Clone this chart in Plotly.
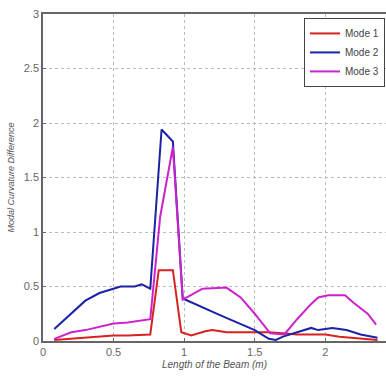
import plotly.graph_objects as go

mode1_x = [0.08, 0.2, 0.3, 0.4, 0.5, 0.6, 0.7, 0.76, 0.82, 0.92, 0.98, 1.05, 1.15, 1.2, 1.3, 1.4, 1.5, 1.6, 1.7, 1.8, 1.9, 2.0, 2.1, 2.2, 2.3, 2.37]
mode1_y = [0.01, 0.02, 0.03, 0.04, 0.05, 0.05, 0.06, 0.06, 0.65, 0.65, 0.08, 0.05, 0.09, 0.10, 0.08, 0.08, 0.08, 0.08, 0.07, 0.06, 0.06, 0.06, 0.04, 0.03, 0.02, 0.01]

mode2_x = [0.08, 0.2, 0.3, 0.4, 0.5, 0.55, 0.65, 0.7, 0.76, 0.84, 0.92, 0.99, 1.25, 1.5, 1.6, 1.65, 1.7, 1.8, 1.9, 1.95, 2.0, 2.05, 2.15, 2.25, 2.37]
mode2_y = [0.11, 0.25, 0.37, 0.44, 0.48, 0.50, 0.50, 0.52, 0.48, 1.94, 1.83, 0.39, 0.24, 0.10, 0.02, 0.01, 0.04, 0.08, 0.12, 0.10, 0.11, 0.12, 0.10, 0.06, 0.03]

mode3_x = [0.08, 0.2, 0.3, 0.4, 0.5, 0.6, 0.7, 0.76, 0.83, 0.92, 0.99, 1.02, 1.13, 1.3, 1.4, 1.5, 1.61, 1.71, 1.8, 1.9, 1.95, 2.02, 2.14, 2.2, 2.3, 2.36]
mode3_y = [0.02, 0.08, 0.10, 0.13, 0.16, 0.17, 0.19, 0.20, 1.14, 1.78, 0.38, 0.40, 0.48, 0.49, 0.40, 0.25, 0.07, 0.06, 0.20, 0.34, 0.40, 0.42, 0.42, 0.35, 0.25, 0.15]

x_ticks = [0, 0.5, 1, 1.5, 2]
x_tick_labels = ["0", "0.5", "1", "1.5", "2"]
y_ticks = [0, 0.5, 1, 1.5, 2, 2.5, 3]
y_tick_labels = ["0", "0.5", "1", "1.5", "2", "2.5", "3"]

fig = go.Figure()
fig.add_trace(go.Scatter(x=mode1_x, y=mode1_y, mode="lines", name="Mode 1",
                         line=dict(color="#d82222", width=2)))
fig.add_trace(go.Scatter(x=mode2_x, y=mode2_y, mode="lines", name="Mode 2",
                         line=dict(color="#1c22a6", width=2)))
fig.add_trace(go.Scatter(x=mode3_x, y=mode3_y, mode="lines", name="Mode 3",
                         line=dict(color="#cc22cc", width=2)))

font_family = "Liberation Sans, Arial, sans-serif"
fig.update_layout(
    width=386, height=378,
    margin=dict(l=43, r=0, t=14, b=37),
    paper_bgcolor="white", plot_bgcolor="white",
    font=dict(family=font_family, size=10, color="#666666"),
    showlegend=True,
    legend=dict(x=0.997, y=0.988, xanchor="right", yanchor="top",
                bgcolor="white", bordercolor="#444444", borderwidth=1,
                font=dict(size=10, color="#444444"),
                itemwidth=30, tracegroupgap=0),
    xaxis=dict(range=[0, 2.43], tickvals=x_ticks, ticktext=x_tick_labels,
               showgrid=True, gridcolor="#bbbbbb", griddash="dot", gridwidth=1,
               showline=True, linecolor="#666666", linewidth=1.5, mirror=True,
               ticks="inside", ticklen=3, tickcolor="#666666",
               zeroline=False, tickfont=dict(size=11, color="#666666"),
               automargin=False,
               title=dict(text="<i>Length of the Beam (m)</i>", font=dict(size=10, color="#555555"), standoff=4)),
    yaxis=dict(range=[0, 3], tickvals=y_ticks, ticktext=y_tick_labels,
               showgrid=True, gridcolor="#bbbbbb", griddash="dot", gridwidth=1,
               showline=True, linecolor="#666666", linewidth=1.5,
               ticks="inside", ticklen=3, tickcolor="#666666",
               zeroline=False, tickfont=dict(size=11, color="#666666"),
               automargin=False,
               title=dict(text="<i>Modal Curvature Difference</i>", font=dict(size=9, color="#555555"), standoff=8)),
)

fig.write_html("out.html", config={"displayModeBar": False},
               post_script="document.body.style.margin='0';document.body.style.overflow='hidden';")
